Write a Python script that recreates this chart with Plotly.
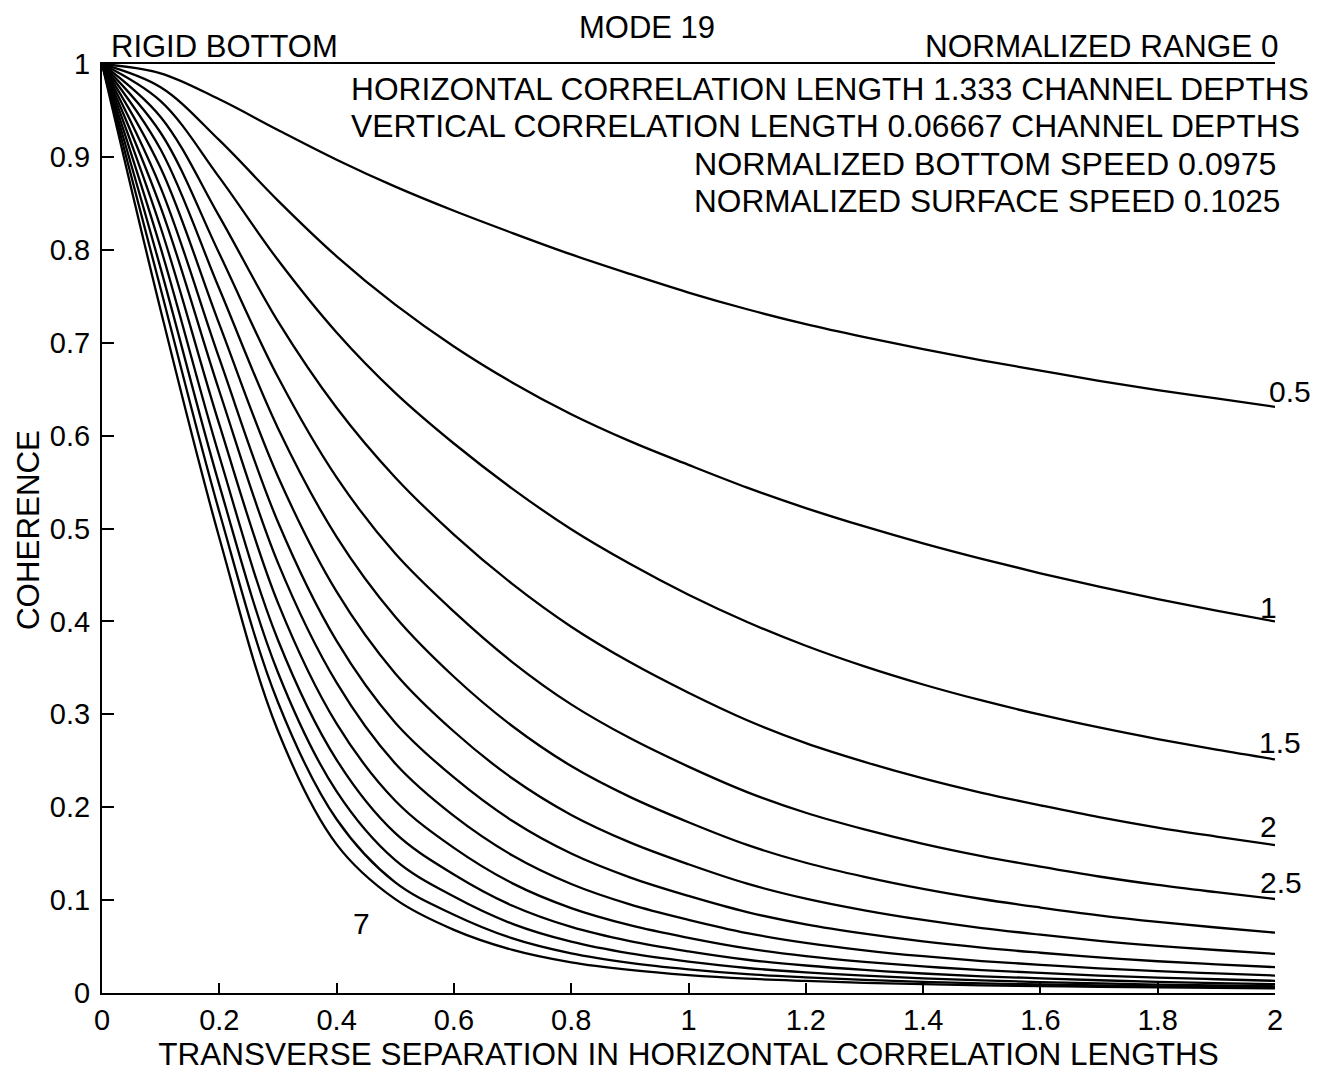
import plotly.graph_objects as go

# transverse separation (horizontal correlation lengths)
sep = [0, 0.1, 0.2, 0.3, 0.4, 0.5, 0.6, 0.7, 0.8, 0.9, 1.0,
       1.1, 1.2, 1.3, 1.4, 1.5, 1.6, 1.7, 1.8, 1.9, 2.0]

# coherence curves, one per parameter value
c_0p5 = [1, 0.990, 0.962, 0.929, 0.897, 0.868, 0.842, 0.818, 0.795, 0.774, 0.754, 0.736, 0.720, 0.706, 0.693, 0.681, 0.670, 0.659, 0.649, 0.640, 0.631]
c_1p0 = [1, 0.975, 0.918, 0.853, 0.793, 0.741, 0.696, 0.657, 0.623, 0.594, 0.5685, 0.544, 0.522, 0.5022, 0.484, 0.4673, 0.4518, 0.4374, 0.424, 0.4116, 0.3999]
c_1p5 = [1, 0.960, 0.878, 0.789, 0.711, 0.646, 0.5915, 0.5427, 0.4992, 0.4620, 0.4287, 0.3994, 0.3738, 0.3516, 0.3321, 0.3149, 0.2996, 0.2858, 0.2733, 0.2619, 0.2515]
c_2p0 = [1, 0.943, 0.836, 0.723, 0.630, 0.555, 0.4935, 0.4401, 0.3943, 0.3562, 0.3232, 0.2936, 0.2690, 0.2488, 0.2310, 0.2155, 0.2020, 0.1892, 0.1780, 0.1684, 0.1592]
c_2p5 = [1, 0.926, 0.796, 0.663, 0.555, 0.473, 0.4105, 0.3560, 0.3107, 0.2744, 0.2437, 0.2163, 0.1940, 0.1761, 0.1606, 0.1474, 0.1360, 0.1254, 0.1163, 0.1085, 0.1012]
c_3p0 = [1, 0.908, 0.758, 0.608, 0.491, 0.405, 0.3404, 0.2871, 0.2443, 0.2111, 0.1838, 0.1594, 0.1402, 0.1250, 0.1121, 0.1012, 0.0920, 0.0836, 0.0765, 0.0705, 0.0649]
c_3p5 = [1, 0.888, 0.720, 0.556, 0.432, 0.344, 0.2815, 0.2309, 0.1917, 0.1622, 0.1386, 0.1177, 0.1016, 0.0890, 0.0786, 0.0699, 0.0628, 0.0562, 0.0508, 0.0463, 0.0421]
c_4p0 = [1, 0.867, 0.683, 0.507, 0.379, 0.291, 0.2320, 0.1851, 0.1501, 0.1245, 0.1045, 0.0871, 0.0739, 0.0638, 0.0555, 0.0488, 0.0433, 0.0383, 0.0342, 0.0309, 0.0278]
c_4p5 = [1, 0.846, 0.648, 0.463, 0.334, 0.247, 0.1906, 0.1480, 0.1173, 0.0954, 0.0788, 0.0645, 0.0540, 0.0460, 0.0396, 0.0344, 0.0303, 0.0265, 0.0235, 0.0211, 0.0188]
c_5p0 = [1, 0.824, 0.612, 0.420, 0.290, 0.207, 0.1562, 0.1180, 0.0914, 0.0730, 0.0594, 0.0480, 0.0398, 0.0336, 0.0286, 0.0247, 0.0216, 0.0188, 0.0166, 0.0148, 0.0131]
c_5p5 = [1, 0.802, 0.578, 0.380, 0.251, 0.172, 0.1276, 0.0939, 0.0711, 0.0558, 0.0448, 0.0358, 0.0296, 0.0248, 0.0210, 0.0180, 0.0158, 0.0137, 0.0120, 0.0107, 0.0095]
c_6p0 = [1, 0.780, 0.547, 0.345, 0.217, 0.143, 0.1038, 0.0744, 0.0552, 0.0426, 0.0338, 0.0269, 0.0222, 0.0186, 0.0157, 0.0135, 0.0118, 0.0103, 0.0091, 0.0081, 0.0072]
c_6p5 = [1, 0.758, 0.518, 0.313, 0.187, 0.119, 0.0843, 0.0588, 0.0427, 0.0325, 0.0255, 0.0203, 0.0169, 0.0141, 0.0120, 0.0104, 0.0092, 0.0081, 0.0072, 0.0065, 0.0058]
c_7p0 = [1, 0.735, 0.490, 0.282, 0.160, 0.101, 0.068, 0.0464, 0.0330, 0.0248, 0.0192, 0.0154, 0.0130, 0.0110, 0.0095, 0.0083, 0.0075, 0.0066, 0.0060, 0.0055, 0.0050]

curve_names = ["0.5", "1", "1.5", "2", "2.5", "3", "3.5", "4", "4.5", "5", "5.5", "6", "6.5", "7"]
curves = [c_0p5, c_1p0, c_1p5, c_2p0, c_2p5, c_3p0, c_3p5, c_4p0, c_4p5, c_5p0, c_5p5, c_6p0, c_6p5, c_7p0]

# curve labels shown on the chart: text, x, y, horizontal nudge (px)
label_text = ["0.5", "1", "1.5", "2", "2.5", "7"]
label_x = [2, 2, 2, 2, 2, 0.443]
label_y = [0.648, 0.415, 0.270, 0.179, 0.119, 0.075]
label_dx = [15, -7, 5, -7, 6, 0]

x_ticks = [0, 0.2, 0.4, 0.6, 0.8, 1, 1.2, 1.4, 1.6, 1.8, 2]
y_ticks = [0, 0.1, 0.2, 0.3, 0.4, 0.5, 0.6, 0.7, 0.8, 0.9, 1]

FONT = "Liberation Sans, Arial, Helvetica, sans-serif"

fig = go.Figure()
for name, ys in zip(curve_names, curves):
    fig.add_trace(go.Scatter(
        x=sep, y=ys, mode="lines", name=name,
        line=dict(color="black", width=2.3, shape="spline", smoothing=1.0),
        showlegend=False, hoverinfo="skip",
    ))

for t, lx, ly, dx in zip(label_text, label_x, label_y, label_dx):
    fig.add_annotation(x=lx, y=ly, xref="x", yref="y", text=t, showarrow=False,
                       xshift=dx, font=dict(size=30, color="black", family=FONT),
                       xanchor="center", yanchor="middle")

# header texts (positions given in page pixels, converted to paper units)
L, R, T, B = 102, 47, 64, 77
W, H = 1322, 1074
pw, ph = W - L - R, H - T - B


def px(xp):
    return (xp - L) / pw


def py(yp):
    return (H - B - yp) / ph


headers = [
    ("MODE 19", 647, 27, "center", 31),
    ("RIGID BOTTOM", 109, 46, "left", 31),
    ("NORMALIZED RANGE 0", 1281, 46, "right", 31.5),
    ("HORIZONTAL CORRELATION LENGTH 1.333 CHANNEL DEPTHS", 349, 89, "left", 31.7),
    ("VERTICAL CORRELATION LENGTH 0.06667 CHANNEL DEPTHS", 349, 126, "left", 31.8),
    ("NORMALIZED BOTTOM SPEED 0.0975", 692, 164, "left", 32.2),
    ("NORMALIZED SURFACE SPEED 0.1025", 692, 202, "left", 31.6),
]
for txt, hx, hy, anc, fs in headers:
    fig.add_annotation(x=px(hx), y=py(hy), xref="paper", yref="paper", text=txt,
                       showarrow=False, xanchor=anc, yanchor="middle",
                       font=dict(size=fs, color="black", family=FONT))

# y-axis title
fig.add_annotation(x=px(29), y=py(532), xref="paper", yref="paper", text="COHERENCE",
                   textangle=-90, showarrow=False, xanchor="center", yanchor="middle",
                   font=dict(size=31.3, color="black", family=FONT))

fig.update_layout(
    width=W, height=H,
    margin=dict(l=L, r=R, t=T, b=B, pad=0),
    paper_bgcolor="white", plot_bgcolor="white",
    font=dict(family=FONT, color="black", size=29),
    xaxis=dict(
        range=[0, 2], tickvals=x_ticks, ticktext=[f"{v:g}" for v in x_ticks],
        showgrid=False, zeroline=False, showline=True, linecolor="black", linewidth=2,
        mirror=True, ticks="inside", ticklen=10, tickwidth=2, tickcolor="black",
        tickfont=dict(size=29),
        title=dict(text="TRANSVERSE SEPARATION IN HORIZONTAL CORRELATION LENGTHS",
                   font=dict(size=31.5), standoff=4),
    ),
    yaxis=dict(
        range=[0, 1], tickvals=y_ticks, ticktext=[f"{v:g}" for v in y_ticks],
        showgrid=False, zeroline=False, showline=True, linecolor="black", linewidth=2,
        ticks="inside", ticklen=12, tickwidth=2, tickcolor="black",
        tickfont=dict(size=29), ticklabelstandoff=4,
    ),
)

fig.write_html("out.html")
